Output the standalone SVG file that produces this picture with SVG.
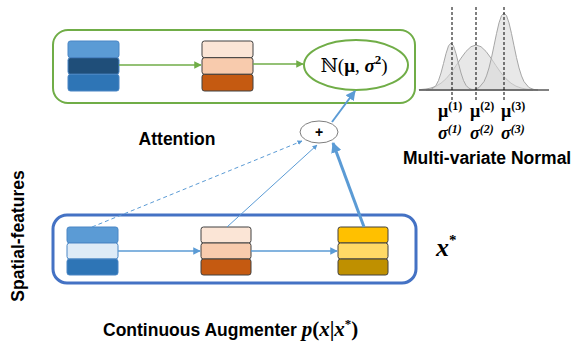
<svg xmlns="http://www.w3.org/2000/svg" width="576" height="341" viewBox="0 0 576 341">
<defs>
<style>
.lbl{font-family:"Liberation Sans",Arial,sans-serif;font-weight:bold;font-size:17.5px;fill:#000}
.math{font-family:"Liberation Serif","DejaVu Serif",serif;font-weight:bold;fill:#000}
.bi{font-style:italic}
.blk{stroke-width:1}
.or{stroke:#404040}
.bl{stroke:#4A86C5}
.gauss{fill:#D9D9D9;fill-opacity:0.6;stroke:#A6A6A6;stroke-width:1}
</style>
<marker id="ag" viewBox="0 0 10 10" refX="9" refY="5" markerWidth="5" markerHeight="5" orient="auto"><path d="M0,0 L10,5 L0,10 z" fill="#70AD47"/></marker>
<marker id="ab" viewBox="0 0 10 10" refX="9" refY="5" markerWidth="5" markerHeight="5" orient="auto"><path d="M0,0 L10,5 L0,10 z" fill="#5B9BD5"/></marker>
<marker id="abs" viewBox="0 0 10 10" refX="9" refY="5" markerWidth="3.5" markerHeight="3.5" orient="auto"><path d="M0,0 L10,5 L0,10 z" fill="#5B9BD5"/></marker>
</defs>

<g id="attention-box">
<rect x="53" y="30" width="362" height="73" rx="15" fill="none" stroke="#70AD47" stroke-width="2"/>
</g>
<g id="augmenter-box">
<rect x="53" y="215" width="363" height="68" rx="14" fill="none" stroke="#4472C4" stroke-width="3"/>
</g>

<g id="att-input">
<rect class="blk bl" x="68" y="41" width="51" height="16.7" rx="2.5" fill="#5B9BD5"/>
<rect class="blk bl" x="68" y="57.7" width="51" height="16.6" rx="2.5" fill="#1F4E79"/>
<rect class="blk bl" x="68" y="74.3" width="51" height="16.7" rx="2.5" fill="#2E75B6"/>
</g>
<g id="att-hidden">
<rect class="blk or" x="202" y="41" width="51" height="16.7" rx="2.5" fill="#FBE5D6"/>
<rect class="blk or" x="202" y="57.7" width="51" height="16.6" rx="2.5" fill="#F8CBAD"/>
<rect class="blk or" x="202" y="74.3" width="51" height="16.7" rx="2.5" fill="#C55A11"/>
</g>
<g id="normal-node">
<ellipse cx="356" cy="65" rx="52" ry="25" fill="#fff" stroke="#70AD47" stroke-width="2"/>
<text class="math" x="354" y="72" font-size="19" text-anchor="middle"><tspan font-weight="normal">ℕ(</tspan>μ<tspan font-weight="normal">, </tspan><tspan class="bi">σ</tspan><tspan font-size="13" dy="-8">2</tspan><tspan font-weight="normal" dy="8">)</tspan></text>
</g>

<g id="aug-input">
<rect class="blk bl" x="67" y="227" width="51" height="16" rx="2.5" fill="#5B9BD5"/>
<rect class="blk bl" x="67" y="243" width="51" height="16" rx="2.5" fill="#DEEBF7"/>
<rect class="blk bl" x="67" y="259" width="51" height="16" rx="2.5" fill="#2E75B6"/>
</g>
<g id="aug-hidden">
<rect class="blk or" x="201" y="227" width="50" height="16" rx="2.5" fill="#FBE5D6"/>
<rect class="blk or" x="201" y="243" width="50" height="16" rx="2.5" fill="#F8CBAD"/>
<rect class="blk or" x="201" y="259" width="50" height="16" rx="2.5" fill="#C55A11"/>
</g>
<g id="aug-output">
<rect class="blk or" x="338" y="227" width="50" height="16" rx="2.5" fill="#FFC000"/>
<rect class="blk or" x="338" y="243" width="50" height="16" rx="2.5" fill="#FFD966"/>
<rect class="blk or" x="338" y="259" width="50" height="16" rx="2.5" fill="#BF9000"/>
</g>

<g id="plus-node">
<ellipse cx="319" cy="132" rx="19" ry="11" fill="#fff" stroke="#7F7F7F" stroke-width="1"/>
<text x="319" y="137" font-family="Liberation Sans,Arial,sans-serif" font-weight="bold" font-size="14" text-anchor="middle">+</text>
</g>

<g id="connectors" fill="none">
<line x1="119" y1="65" x2="201" y2="65" stroke="#70AD47" stroke-width="1.5" marker-end="url(#ag)"/>
<line x1="253" y1="64" x2="303" y2="64" stroke="#70AD47" stroke-width="1.5" marker-end="url(#ag)"/>
<line x1="118" y1="251" x2="200" y2="251" stroke="#5B9BD5" stroke-width="1.5" marker-end="url(#ab)"/>
<line x1="251" y1="251" x2="337" y2="251" stroke="#5B9BD5" stroke-width="1.5" marker-end="url(#ab)"/>
<line x1="332" y1="122" x2="355" y2="91" stroke="#5B9BD5" stroke-width="2" marker-end="url(#ab)"/>
<line x1="364" y1="227" x2="333" y2="143" stroke="#5B9BD5" stroke-width="3" marker-end="url(#abs)"/>
<line x1="227" y1="227" x2="317" y2="145" stroke="#5B9BD5" stroke-width="1" marker-end="url(#ab)"/>
<line x1="92" y1="227" x2="302" y2="141" stroke="#5B9BD5" stroke-width="1" stroke-dasharray="4,3" marker-end="url(#ab)"/>
</g>

<g id="mvn-plot">
<path class="gauss" d="M419,89.7 L426,89 431,88 436,86.2 441,83.2 446,78.8 451,72.9 456,65.7 461,58.2 466,51.4 471,46.7 476,45 481,46.7 486,51.4 491,58.2 496,65.7 501,72.9 506,78.8 511,83.2 516,86.2 521,88 526,89 533,89.7 L533,90 L419,90 Z"/>
<path class="gauss" d="M426,90 L431,89.2 433.5,87.9 436,85.3 438.5,80.5 441,73 443.5,63.5 446,53.6 448.5,45.9 451,43 453.5,45.9 456,53.6 458.5,63.5 461,73 463.5,80.5 466,85.3 468.5,87.9 471,89.2 476,90 Z"/>
<path class="gauss" d="M470,90 L474,89.5 479,87.6 484,81.6 486.5,75.9 489,67.9 491.5,57.6 494,45.7 496.5,33.6 499,22.9 501.5,15.6 504,13 506.5,15.6 509,22.9 511.5,33.6 514,45.7 516.5,57.6 519,67.9 521.5,75.9 524,81.6 529,87.6 534,89.5 538,90 Z"/>
<line x1="419" y1="90" x2="549" y2="90" stroke="#595959" stroke-width="1.5"/>
<g stroke="#000" stroke-width="1" stroke-dasharray="3,2">
<line x1="452" y1="7" x2="452" y2="100"/>
<line x1="476" y1="7" x2="476" y2="100"/>
<line x1="504" y1="7" x2="504" y2="100"/>
</g>
<text class="math" font-size="18" y="117"><tspan x="438">μ</tspan><tspan font-size="12" dy="-7">(1)</tspan><tspan x="470" dy="7">μ</tspan><tspan font-size="12" dy="-7">(2)</tspan><tspan x="501" dy="7">μ</tspan><tspan font-size="12" dy="-7">(3)</tspan></text>
<text class="math bi" font-size="18" y="139"><tspan x="438">σ</tspan><tspan font-size="12" dy="-6">(1)</tspan><tspan x="470" dy="6">σ</tspan><tspan font-size="12" dy="-6">(2)</tspan><tspan x="501" dy="6">σ</tspan><tspan font-size="12" dy="-6">(3)</tspan></text>
</g>

<text class="lbl" x="177" y="145" text-anchor="middle">Attention</text>
<text class="lbl" x="403" y="164">Multi-variate Normal</text>
<text class="lbl" transform="translate(24,236) rotate(-90)" text-anchor="middle">Spatial-features</text>
<text class="lbl" x="103" y="336" font-size="18">Continuous Augmenter <tspan class="math bi" font-size="21">p</tspan><tspan class="math" font-weight="normal" font-size="21">(</tspan><tspan class="math bi" font-size="21">x</tspan><tspan class="math" font-weight="normal" font-size="21">|</tspan><tspan class="math bi" font-size="21">x</tspan><tspan class="math" font-size="13" dy="-8">*</tspan><tspan class="math" font-weight="normal" font-size="21" dy="8">)</tspan></text>
<text class="math bi" x="436" y="256" font-size="26">x<tspan font-style="normal" font-size="15" dy="-11">*</tspan></text>
</svg>
